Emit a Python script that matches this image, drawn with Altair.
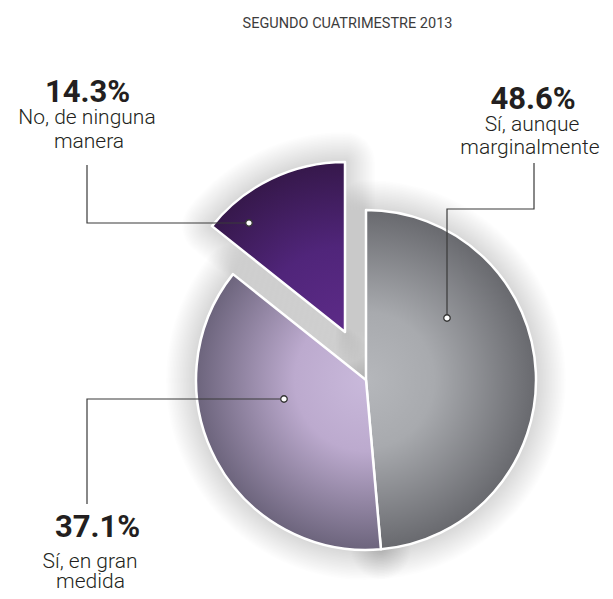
import math
import altair as alt
import pandas as pd

# ---------------- data ----------------
title_text = "SEGUNDO CUATRIMESTRE 2013"
categories = ["Sí, aunque marginalmente", "Sí, en gran medida", "No, de ninguna manera"]
values = [48.6, 37.1, 14.3]
pct_labels = ["48.6%", "37.1%", "14.3%"]
label_line1 = ["Sí, aunque", "Sí, en gran", "No, de ninguna"]
label_line2 = ["marginalmente", "medida", "manera"]

# ---------------- layout / style ----------------
W, H = 605, 591          # drawing frame in page pixels (page margin is 8)
CX, CY, R = 366, 380, 170
EXPLODED = 2
DX, DY = -21, -48
TOTAL = sum(values)

# gradient stops per slice (offset, colour)
GRAD_STOPS = [
    [(0.0, "#b5b7bb"), (0.4, "#a8aaae"), (1.0, "#68696e")],
    [(0.0, "#c9b9db"), (0.42, "#bcaace"), (1.0, "#6c647c")],
    [(0.0, "#5d2b88"), (0.5, "#50257a"), (1.0, "#36184b")],
]

# label text positions (x centre, baseline)
PCT_POS = [(533, 108.5), (97.5, 536.5), (87.5, 102)]
L1_POS = [(532, 131), (90, 567.5), (87, 124)]
L2_POS = [(530, 154), (90.5, 588), (89, 148)]
TITLE_POS = (347.5, 27.5)

# leader polylines (first point is the dot inside the slice)
LEADERS = [
    [(447, 318), (447, 209), (534, 209), (534, 163)],
    [(284, 399), (87, 399), (87, 504)],
    [(249, 223), (87, 223), (87, 165)],
]

df = pd.DataFrame({"cat": categories, "value": values, "order": list(range(len(values)))})

xs = alt.Scale(domain=[0, W], range=[0, W])
ys = alt.Scale(domain=[0, H], range=[0, H])
ts = alt.Scale(domain=[0, TOTAL], range=[0, 2 * math.pi])

base = alt.Chart(df).transform_window(
    cum="sum(value)", sort=[alt.SortField("order", order="ascending")], frame=[None, 0]
).transform_calculate(
    start="datum.cum - datum.value",
    cx=f"datum.order == {EXPLODED} ? {CX + DX} : {CX}",
    cy=f"datum.order == {EXPLODED} ? {CY + DY} : {CY}",
)

arc_enc = dict(
    x=alt.X("cx:Q", scale=xs, axis=None),
    y=alt.Y("cy:Q", scale=ys, axis=None),
    theta=alt.Theta("start:Q", scale=ts),
    theta2=alt.Theta2("cum:Q"),
)


def sector_bbox(cx, cy, r, a0, a1):
    pts = [(cx, cy)]
    angs = [a0, a1] + [k * math.pi / 2 for k in range(5) if a0 < k * math.pi / 2 < a1]
    for a in angs:
        pts.append((cx + r * math.sin(a), cy - r * math.cos(a)))
    xs_ = [p[0] for p in pts]
    ys_ = [p[1] for p in pts]
    return min(xs_), min(ys_), max(xs_), max(ys_)


def radial_fill(i):
    a0 = sum(values[:i]) / TOTAL * 2 * math.pi
    a1 = sum(values[: i + 1]) / TOTAL * 2 * math.pi
    cx = CX + (DX if i == EXPLODED else 0)
    cy = CY + (DY if i == EXPLODED else 0)
    x0, y0, x1, y1 = sector_bbox(cx, cy, R, a0, a1)
    s = max(x1 - x0, y1 - y0)
    ux0 = (x0 + x1) / 2 - s / 2
    uy0 = (y0 + y1) / 2 - s / 2
    gx, gy, gr = (cx - ux0) / s, (cy - uy0) / s, R / s
    return alt.RadialGradient(
        gradient="radial",
        stops=[alt.GradientStop(color=c, offset=o) for o, c in GRAD_STOPS[i]],
        x1=gx, y1=gy, r1=0, x2=gx, y2=gy, r2=gr,
    )


layers = []
# soft shadow / glow built from many thin translucent strokes
for w in range(60, 2, -3):
    layers.append(
        base.mark_arc(
            outerRadius=R, fillOpacity=0, stroke="#000000", strokeOpacity=0.0095,
            strokeWidth=w, strokeJoin="round",
        ).encode(**arc_enc)
    )

# slices with gradient fills
for i in range(len(values)):
    layers.append(
        base.transform_filter(f"datum.order == {i}")
        .mark_arc(outerRadius=R, fill=radial_fill(i), stroke="#ffffff", strokeWidth=2.5, strokeJoin="round")
        .encode(**arc_enc)
    )

# leader lines
lead_rows = []
for k, pts in enumerate(LEADERS):
    for j, (x, y) in enumerate(pts):
        lead_rows.append({"id": k, "seq": j, "x": x, "y": y})
lead_df = pd.DataFrame(lead_rows)
layers.append(
    alt.Chart(lead_df).mark_line(color="#3a3a3a", strokeWidth=1.2).encode(
        x=alt.X("x:Q", scale=xs, axis=None),
        y=alt.Y("y:Q", scale=ys, axis=None),
        detail="id:N",
        order="seq:Q",
    )
)
dot_df = lead_df[lead_df["seq"] == 0]
layers.append(
    alt.Chart(dot_df).mark_circle(color="#ffffff", opacity=1, stroke="#333333", strokeWidth=1.3, size=42).encode(
        x=alt.X("x:Q", scale=xs, axis=None),
        y=alt.Y("y:Q", scale=ys, axis=None),
    )
)

# texts
pct_df = pd.DataFrame({"t": pct_labels, "x": [p[0] for p in PCT_POS], "y": [p[1] for p in PCT_POS]})
line_df = pd.DataFrame({
    "t": label_line1 + label_line2,
    "x": [p[0] for p in L1_POS] + [p[0] for p in L2_POS],
    "y": [p[1] for p in L1_POS] + [p[1] for p in L2_POS],
})
title_df = pd.DataFrame({"t": [title_text], "x": [TITLE_POS[0]], "y": [TITLE_POS[1]]})

txt_enc = dict(
    x=alt.X("x:Q", scale=xs, axis=None),
    y=alt.Y("y:Q", scale=ys, axis=None),
    text="t:N",
)
layers.append(
    alt.Chart(pct_df).mark_text(font="Roboto", fontSize=31, fontWeight="bold", color="#231f20",
                                align="center", baseline="alphabetic").encode(**txt_enc)
)
layers.append(
    alt.Chart(line_df).mark_text(font="Roboto", fontSize=21, fontWeight=300, color="#231f20",
                                 align="center", baseline="alphabetic").encode(**txt_enc)
)
layers.append(
    alt.Chart(title_df).mark_text(font="Roboto", fontSize=14.5, fontWeight=400, color="#3c3c3c",
                                  align="center", baseline="alphabetic").encode(**txt_enc)
)

chart = alt.layer(*layers).properties(
    width=W, height=H, autosize="none",
    padding={"left": -8, "top": -8, "right": 0, "bottom": 0},
    background="#ffffff",
).configure_view(strokeWidth=0)

chart.save("out.html", embed_options={"renderer": "svg", "actions": False})
